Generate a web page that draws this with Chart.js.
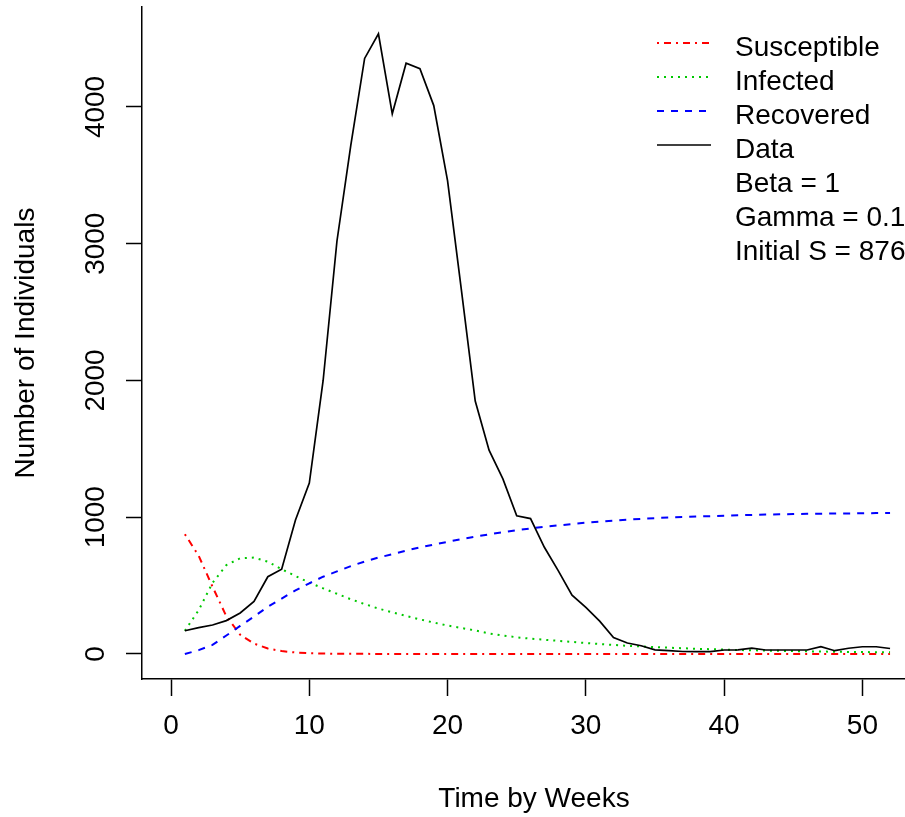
<!DOCTYPE html>
<html>
<head>
<meta charset="utf-8">
<title>SIR model vs data</title>
<script src="https://cdn.jsdelivr.net/npm/chart.js@4.4.1/dist/chart.umd.min.js"></script>
<style>
  html, body { margin: 0; padding: 0; background: #ffffff; overflow: hidden; }
</style>
</head>
<body>
<canvas id="sirChart" width="926" height="817"></canvas>
<script>
// weeks on the x axis
const weeks = [1, 2, 3, 4, 5, 6, 7, 8, 9, 10, 11, 12, 13, 14, 15, 16, 17, 18, 19, 20,
               21, 22, 23, 24, 25, 26, 27, 28, 29, 30, 31, 32, 33, 34, 35, 36, 37, 38, 39, 40,
               41, 42, 43, 44, 45, 46, 47, 48, 49, 50, 51, 52];

// observed weekly cases (black line)
const dataCases = [170, 193, 212, 244, 300, 385, 565, 620, 980, 1250,
                   2000, 3020, 3720, 4355, 4535, 3950, 4320, 4280, 4010, 3460,
                   2660, 1850, 1490, 1280, 1010, 990, 780, 610, 430, 340,
                   240, 120, 80, 60, 30, 25, 18, 17, 17, 29,
                   30, 42, 29, 29, 29, 29, 53, 24, 42, 53,
                   53, 40];

// model compartments
const susceptible = [876, 718, 492, 276, 141, 76, 40, 21, 11, 6,
                     3, 2, 1, 1, 0, 0, 0, 0, 0, 0,
                     0, 0, 0, 0, 0, 0, 0, 0, 0, 0,
                     0, 0, 0, 0, 0, 0, 0, 0, 0, 0,
                     0, 0, 0, 0, 0, 0, 0, 0, 0, 0,
                     0, 0];
const infected = [170, 320, 520, 650, 700, 705, 675, 620, 570, 522,
                  480, 440, 400, 365, 332, 305, 278, 253, 230, 208,
                  190, 172, 150, 135, 122, 112, 104, 96, 88, 80,
                  73, 66, 60, 55, 50, 46, 42, 38, 35, 32,
                  29, 27, 25, 23, 21, 19, 18, 16, 15, 14,
                  13, 12];
const recovered = [0, 28, 66, 135, 205, 273, 345, 405, 465, 517,
                   565, 604, 642, 676, 705, 730, 756, 779, 800, 820,
                   840, 858, 875, 890, 905, 918, 930, 940, 950, 960,
                   968, 975, 982, 988, 993, 998, 1001, 1005, 1008, 1011,
                   1014, 1017, 1019, 1021, 1023, 1025, 1026, 1027, 1028, 1029,
                   1030, 1031];

// tick labels
const xTicks = [0, 10, 20, 30, 40, 50];
const yTicks = [0, 1000, 2000, 3000, 4000];

// legend text
const legendNotes = ['Beta = 1', 'Gamma = 0.1', 'Initial S = 876'];

const FONT = "'Liberation Sans', Arial, sans-serif";
const FONT_SIZE = 28;
Chart.defaults.font.family = FONT;
Chart.defaults.color = '#000000';

const DASH = {
    dotdash: [2, 5, 7, 5],
    dotted: [2, 5],
    dashed: [7, 7]
};

const toPoints = vals => weeks.map((w, i) => ({ x: w, y: vals[i] }));

// R-style legend without a box, plus the parameter notes underneath
const sirLegend = {
    id: 'sirLegend',
    afterDraw(chart) {
        const ctx = chart.ctx;
        const rowGap = 34;
        const lineY0 = 43;
        const textY0 = 55.5;
        const items = chart.data.datasets
            .slice()
            .sort((a, b) => a.legendRank - b.legendRank);

        ctx.save();
        ctx.font = FONT_SIZE + 'px ' + FONT;
        ctx.textAlign = 'left';
        ctx.textBaseline = 'alphabetic';
        ctx.fillStyle = '#000000';

        items.forEach((ds, i) => {
            const y = lineY0 + i * rowGap;
            ctx.strokeStyle = ds.borderColor;
            ctx.lineWidth = ds.borderWidth;
            ctx.setLineDash(ds.borderDash || []);
            ctx.beginPath();
            ctx.moveTo(657, y);
            ctx.lineTo(711, y);
            ctx.stroke();
            ctx.fillText(ds.label, 735, textY0 + i * rowGap);
        });
        legendNotes.forEach((t, j) => {
            ctx.fillText(t, 735, textY0 + (items.length + j) * rowGap);
        });
        ctx.restore();
    }
};

const axisGrid = len => ({
    display: true,
    drawOnChartArea: false,
    drawTicks: true,
    tickLength: len,
    tickColor: '#000000',
    tickWidth: 1.5
});

const ctx = document.getElementById('sirChart').getContext('2d');

new Chart(ctx, {
    type: 'line',
    data: {
        datasets: [
            {
                label: 'Data', data: toPoints(dataCases),
                borderColor: '#000000', borderWidth: 1.7,
                order: 0, legendRank: 3
            },
            {
                label: 'Susceptible', data: toPoints(susceptible),
                borderColor: '#ff0000', borderWidth: 2, borderDash: DASH.dotdash,
                order: 3, legendRank: 0
            },
            {
                label: 'Infected', data: toPoints(infected),
                borderColor: '#00c800', borderWidth: 2, borderDash: DASH.dotted,
                order: 2, legendRank: 1
            },
            {
                label: 'Recovered', data: toPoints(recovered),
                borderColor: '#0000ff', borderWidth: 2, borderDash: DASH.dashed,
                order: 1, legendRank: 2
            }
        ]
    },
    options: {
        responsive: false,
        animation: false,
        layout: { padding: { top: 7, left: 0, right: 0, bottom: 0 } },
        elements: {
            point: { radius: 0 },
            line: { tension: 0, fill: false, borderCapStyle: 'butt' }
        },
        plugins: {
            legend: { display: false },
            tooltip: { enabled: false }
        },
        scales: {
            x: {
                type: 'linear',
                min: -2.1,
                max: 54.6,
                afterBuildTicks: s => { s.ticks = xTicks.map(v => ({ value: v })); },
                afterFit: s => {
                    s.height = 138;
                    s.paddingLeft = 0;
                    s.paddingRight = 0;
                },
                grid: axisGrid(17),
                border: { display: true, color: '#000000', width: 1.5 },
                ticks: {
                    font: { size: FONT_SIZE },
                    padding: 13,
                    maxRotation: 0,
                    minRotation: 0,
                    callback: v => String(v)
                },
                title: {
                    display: true,
                    text: 'Time by Weeks',
                    font: { size: FONT_SIZE },
                    padding: { top: 0, bottom: 1 }
                }
            },
            y: {
                type: 'linear',
                min: -183,
                max: 4731,
                afterBuildTicks: s => { s.ticks = yTicks.map(v => ({ value: v })); },
                afterFit: s => {
                    s.width = 142;
                    s.paddingTop = 0;
                    s.paddingBottom = 0;
                },
                grid: axisGrid(16),
                border: { display: true, color: '#000000', width: 1.5 },
                ticks: {
                    font: { size: FONT_SIZE },
                    minRotation: 90,
                    maxRotation: 90,
                    crossAlign: 'center',
                    padding: -1,
                    callback: v => String(v)
                },
                title: {
                    display: true,
                    text: 'Number of Individuals',
                    font: { size: FONT_SIZE },
                    padding: { top: 9, bottom: 0 }
                }
            }
        }
    },
    plugins: [sirLegend]
});
</script>
</body>
</html>
